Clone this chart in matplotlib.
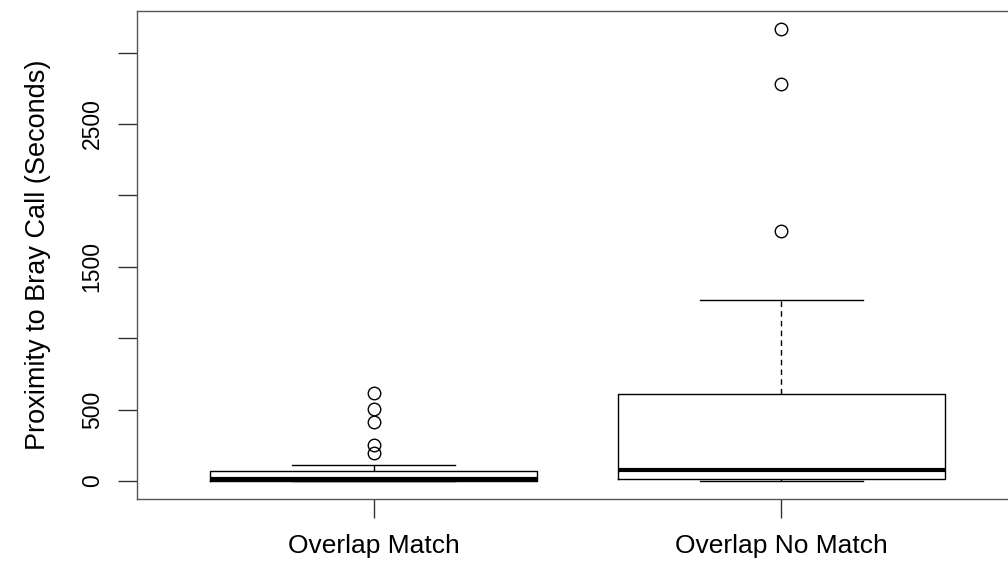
import matplotlib
matplotlib.use("Agg")
import matplotlib.pyplot as plt

# group names and summary stats
groups = ["Overlap Match", "Overlap No Match"]
q1 = [1, 16]
medians = [12, 77]
q3 = [73, 609]
whisker_low = [0, 0]
whisker_high = [109, 1267]
outliers = [
    [195, 250, 415, 504, 618],
    [1750, 2780, 3165],
]
y_ticks = [0, 500, 1000, 1500, 2000, 2500, 3000]
y_tick_labels = ["0", "500", "", "1500", "", "2500", ""]

plt.rcParams["font.family"] = ["Liberation Sans", "DejaVu Sans"]

fig = plt.figure(figsize=(10.08, 5.61), dpi=100)
ax = fig.add_axes([137 / 1008, 62 / 561, 881 / 1008, 488 / 561])

stats = []
for i in range(len(groups)):
    stats.append({
        "label": groups[i],
        "q1": q1[i], "med": medians[i], "q3": q3[i],
        "whislo": whisker_low[i], "whishi": whisker_high[i],
        "fliers": outliers[i],
    })

ax.bxp(stats, positions=[1, 2], widths=0.8, showfliers=True,
       boxprops=dict(color="black", linewidth=1),
       medianprops=dict(color="black", linewidth=3, solid_capstyle="butt"),
       whiskerprops=dict(color="black", linewidth=1, linestyle=(0, (4, 3))),
       capprops=dict(color="black", linewidth=1),
       flierprops=dict(marker="o", markerfacecolor="none",
                       markeredgecolor="black", markersize=9, markeredgewidth=1))

ax.set_xlim(0.42, 2.58)
ax.set_ylim(-126.6, 3291.6)

ax.set_yticks(y_ticks)
ax.set_yticklabels(y_tick_labels, rotation=90, va="center")
ax.set_xticks([1, 2])
ax.set_xticklabels(groups)
ax.tick_params(axis="both", direction="out", length=14, width=1,
               color="#333333")
ax.tick_params(axis="y", pad=10, labelsize=16.5)
ax.tick_params(axis="x", pad=11, labelsize=19)
ax.set_ylabel("Proximity to Bray Call (Seconds)", fontsize=19.5, labelpad=21)

for s in ax.spines.values():
    s.set_color("#555555")
    s.set_linewidth(1)

fig.savefig("out.png", dpi=100)
